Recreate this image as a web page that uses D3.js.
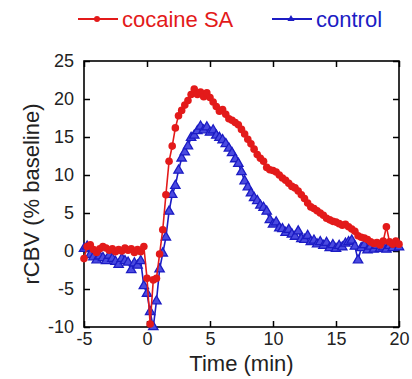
<!DOCTYPE html>
<html>
<head>
<meta charset="utf-8">
<script src="https://cdn.jsdelivr.net/npm/d3@7"></script>
<style>
  body { margin: 0; background: #fff; }
  svg { display: block; font-family: "Liberation Sans", Arial, sans-serif; }
</style>
</head>
<body>
<div id="chart"></div>
<script>
// sample times: every 0.25 min from -5 to 20
var times = d3.range(101).map(function(i) { return -5 + i * 0.25; });

// rCBV (% baseline)
var cocaine = [
  -1.0, 0.6, 0.8, 0.2, -0.2, 0.3, 0.6, 0.4, 0.1, 0.3,
  -0.1, 0.2, 0.0, 0.4, 0.1, 0.3, -0.2, 0.2, -0.1, 0.6,
  -3.6, -9.6, -3.8, -3.6, -0.4, 2.8, 7.4, 11.8, 13.8, 16.2,
  17.8, 18.5, 19.2, 19.8, 20.6, 21.3, 20.6, 20.9, 20.3, 20.8,
  20.2, 19.6, 19.0, 18.4, 18.6, 18.0, 17.4, 17.2, 16.9, 16.6,
  16.0, 15.4, 14.7, 14.1, 13.4, 12.7, 12.2, 11.8, 11.0, 10.7,
  10.6, 10.4, 10.0, 9.6, 9.3, 8.9, 8.5, 8.3, 7.9, 7.4,
  6.9, 6.3, 5.8, 5.6, 5.3, 5.0, 4.7, 4.3, 4.1, 3.9,
  3.8, 3.6, 3.4, 3.5, 3.2, 2.9, 2.6, 2.0, 1.8, 1.7,
  1.5, 1.2, 1.0, 1.1, 0.8, 1.3, 3.2, 1.2, 0.9, 1.3,
  0.9
];
var control = [
  0.3, 0.6, -0.5, -0.8, -1.2, -0.7, -0.9, -1.3, -0.6, -1.0,
  -1.4, -1.8, -1.0, -1.3, -1.5, -2.5, -1.6, -1.9, -1.3, -4.6,
  -5.6, -8.0, -10.0, -6.6, -2.4, -0.3, 1.8, 5.2, 7.4, 8.6,
  10.6, 12.2, 13.0, 13.8, 14.9, 15.2, 15.8, 16.4, 15.9, 16.3,
  15.6, 15.9, 15.2, 14.9, 14.6, 14.1, 13.5, 12.9, 12.1, 11.5,
  10.4, 9.2, 8.4, 7.6, 7.0, 6.6, 6.0, 5.7, 5.2, 4.1,
  3.5, 3.8, 3.0, 2.9, 2.4, 2.8, 2.2, 1.9, 2.6, 1.6,
  1.5, 2.0, 1.2, 1.4, 0.9, 1.2, 0.7, 1.1, 0.4, 0.8,
  0.3, 0.7, 0.5, 1.0, 1.2, 1.4, 0.6, -1.2, 0.4, 0.8,
  0.1, 0.6, 0.2, 0.7, 0.3, 0.5, 0.2, 0.7, 0.4, 0.9,
  0.5
];
var xTicks = [-5, 0, 5, 10, 15, 20];
var yTicks = [-10, -5, 0, 5, 10, 15, 20, 25];
var seriesNames = ["cocaine SA", "control"];

var width = 412, height = 379;
var mLeft = 84, mRight = 399, mTop = 61, mBottom = 327;
var red = "#e31a1a", blue = "#1c1cc4";

var svg = d3.select("#chart").append("svg")
  .attr("width", width)
  .attr("height", height);

var x = d3.scaleLinear().domain([-5, 20]).range([mLeft, mRight]);
var y = d3.scaleLinear().domain([-10, 25]).range([mBottom, mTop]);
var plain = function(d) { return String(d); };

// axes, ticks pointing inward
var xAxis = svg.append("g")
  .attr("transform", "translate(0," + mBottom + ")")
  .call(d3.axisBottom(x).tickValues(xTicks).tickSizeInner(-6).tickSizeOuter(0).tickPadding(5).tickFormat(plain));
var xTop = svg.append("g")
  .attr("transform", "translate(0," + mTop + ")")
  .call(d3.axisTop(x).tickValues(xTicks).tickSizeInner(-6).tickSizeOuter(0).tickFormat(""));
var yAxis = svg.append("g")
  .attr("transform", "translate(" + mLeft + ",0)")
  .call(d3.axisLeft(y).tickValues(yTicks).tickSizeInner(-6).tickSizeOuter(0).tickPadding(10).tickFormat(plain));
var yRight = svg.append("g")
  .attr("transform", "translate(" + mRight + ",0)")
  .call(d3.axisRight(y).tickValues(yTicks).tickSizeInner(-6).tickSizeOuter(0).tickFormat(""));

[xAxis, xTop, yAxis, yRight].forEach(function(g) {
  g.select(".domain").remove();
  g.selectAll(".tick line").attr("stroke", "#000").attr("stroke-width", 1.5);
  g.selectAll(".tick text")
    .style("font-size", "18px")
    .style("fill", "#222");
});

// frame
svg.append("rect")
  .attr("x", mLeft)
  .attr("y", mTop)
  .attr("width", mRight - mLeft)
  .attr("height", mBottom - mTop)
  .attr("fill", "none")
  .attr("stroke", "#000")
  .attr("stroke-width", 1.6);

var line = d3.line()
  .x(function(d, i) { return x(times[i]); })
  .y(function(d) { return y(d); });

var tri = d3.symbol().type(d3.symbolTriangle).size(38);

// control series (under)
svg.append("path")
  .attr("d", line(control))
  .attr("fill", "none")
  .attr("stroke", blue)
  .attr("stroke-width", 1.6);
svg.selectAll(".ctl")
  .data(control)
  .enter()
  .append("path")
  .attr("class", "ctl")
  .attr("d", tri)
  .attr("transform", function(d, i) { return "translate(" + x(times[i]) + "," + y(d) + ")"; })
  .attr("fill", "#4a4ae0")
  .attr("stroke", blue)
  .attr("stroke-width", 1.3);

// cocaine series
svg.append("path")
  .attr("d", line(cocaine))
  .attr("fill", "none")
  .attr("stroke", red)
  .attr("stroke-width", 1.6);
svg.selectAll(".coc")
  .data(cocaine)
  .enter()
  .append("circle")
  .attr("class", "coc")
  .attr("cx", function(d, i) { return x(times[i]); })
  .attr("cy", function(d) { return y(d); })
  .attr("r", 3.8)
  .attr("fill", red);

// axis titles
svg.append("text")
  .attr("x", (mLeft + mRight) / 2)
  .attr("y", 371)
  .attr("text-anchor", "middle")
  .style("font-size", "22px")
  .style("fill", "#222")
  .text("Time (min)");

svg.append("text")
  .attr("transform", "translate(39," + (mTop + mBottom) / 2 + ") rotate(-90)")
  .attr("text-anchor", "middle")
  .style("font-size", "22px")
  .style("fill", "#222")
  .text("rCBV (% baseline)");

// legend
var legend = [
  { name: seriesNames[0], color: red, x0: 78 },
  { name: seriesNames[1], color: blue, x0: 272 }
];
legend.forEach(function(d, k) {
  var g = svg.append("g").attr("transform", "translate(" + d.x0 + ",19)");
  g.append("line")
    .attr("x1", 0).attr("x2", 40)
    .attr("y1", 0).attr("y2", 0)
    .attr("stroke", d.color)
    .attr("stroke-width", 2);
  if (k === 0) {
    g.append("circle").attr("cx", 19).attr("cy", 0).attr("r", 3).attr("fill", d.color);
  } else {
    g.append("path").attr("d", d3.symbol().type(d3.symbolTriangle).size(22))
      .attr("transform", "translate(19,0)")
      .attr("fill", d.color);
  }
  g.append("text")
    .attr("x", 44)
    .attr("y", 8)
    .style("font-size", "22px")
    .style("fill", d.color)
    .text(d.name);
});
</script>
</body>
</html>
